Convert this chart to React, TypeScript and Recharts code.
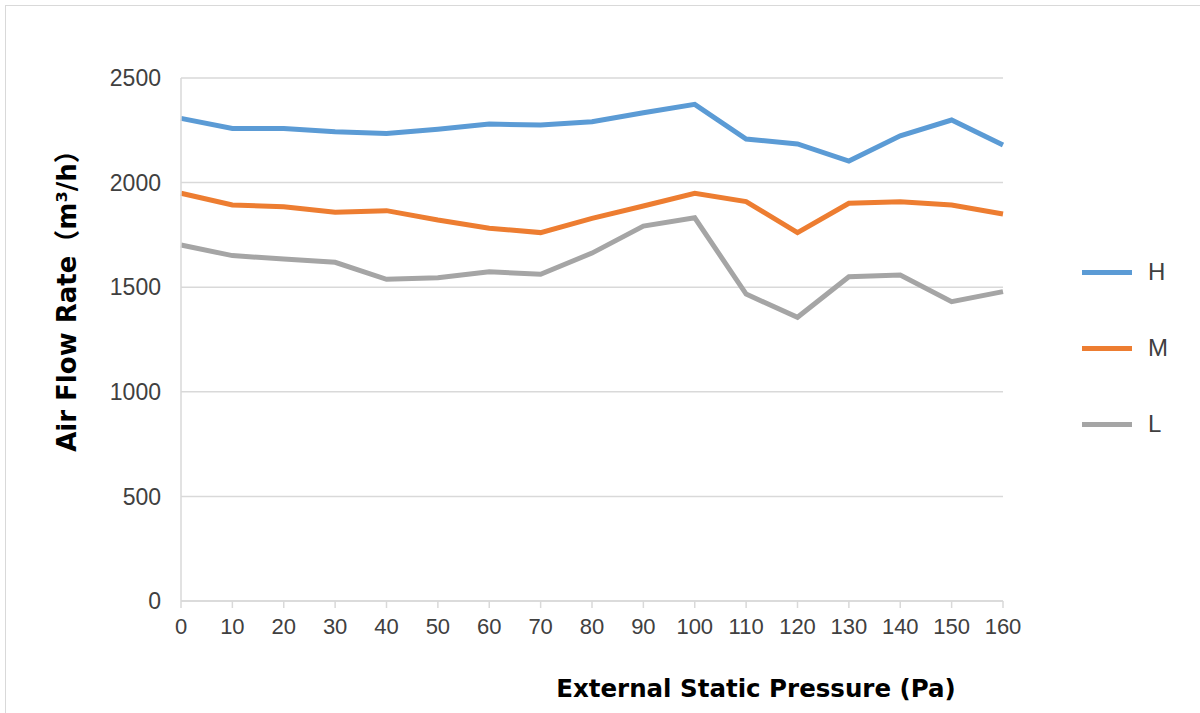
import { LineChart, Line, XAxis, YAxis, CartesianGrid, Legend, Label } from 'recharts';

const pressures = [0, 10, 20, 30, 40, 50, 60, 70, 80, 90, 100, 110, 120, 130, 140, 150, 160];
const highFlow = [2307, 2259, 2259, 2243, 2235, 2255, 2280, 2275, 2291, 2334, 2374, 2208, 2185, 2103, 2224, 2299, 2180];
const midFlow = [1949, 1893, 1885, 1858, 1866, 1821, 1782, 1761, 1829, 1888, 1949, 1909, 1761, 1901, 1909, 1893, 1850];
const lowFlow = [1702, 1651, 1635, 1619, 1538, 1545, 1574, 1562, 1663, 1792, 1832, 1467, 1356, 1550, 1558, 1431, 1479];
const yTicks = [0, 500, 1000, 1500, 2000, 2500];

const chartData = pressures.map((p, i) => ({ p, H: highFlow[i], M: midFlow[i], L: lowFlow[i] }));

const series = [
  { key: 'H', color: '#5b9bd5' },
  { key: 'M', color: '#ed7d31' },
  { key: 'L', color: '#a5a5a5' },
];

const titleFont = 'DejaVu Sans, Liberation Sans, Noto Sans CJK SC, sans-serif';

const LegendBox = () => (
  <div style={{ display: 'flex', flexDirection: 'column', gap: 50 }}>
    {series.map((s) => (
      <div key={s.key} style={{ display: 'flex', alignItems: 'center', height: 26 }}>
        <div style={{ width: 50, height: 5, background: s.color }} />
        <span style={{ marginLeft: 16, fontSize: 24, color: '#404040', fontFamily: 'Liberation Sans, Arial, sans-serif' }}>{s.key}</span>
      </div>
    ))}
  </div>
);

const YTitle = ({ viewBox }: any) => {
  const x = viewBox.x + viewBox.width - 114;
  const y = viewBox.y + viewBox.height / 2 - 45;
  return (
    <text x={x} y={y} transform={`rotate(-90 ${x} ${y})`} textAnchor="middle" dominantBaseline="central"
      style={{ fontSize: 26, fontWeight: 'bold', fontFamily: titleFont, fill: '#000' }}>
      Air Flow Rate（m³/h）
    </text>
  );
};

const XTitle = ({ viewBox }: any) => (
  <text x={viewBox.x + viewBox.width / 2 + 164} y={688} textAnchor="middle" dominantBaseline="central"
    style={{ fontSize: 24.5, fontWeight: 'bold', fontFamily: titleFont, fill: '#000' }}>
    External Static Pressure (Pa)
  </text>
);

export default function App() {
  return (
    <div style={{ position: 'absolute', left: 0, top: 0, width: 1200, height: 713, background: '#fff', overflow: 'hidden' }}>
      <div style={{ position: 'absolute', left: 5, top: 5, width: 1200, height: 720, border: '1px solid #d9d9d9' }} />
      <LineChart width={1200} height={713} data={chartData} margin={{ top: 78, right: 87, bottom: 0, left: 91 }}>
        <CartesianGrid vertical={false} stroke="#d9d9d9" strokeWidth={1.5} />
        <XAxis
          dataKey="p"
          height={112}
          stroke="#d9d9d9"
          strokeWidth={1.5}
          tickSize={7}
          tickMargin={10}
          tick={{ fill: '#404040', fontSize: 22, fontFamily: 'Liberation Sans Narrow, Liberation Sans, Arial, sans-serif' }}
        >
          <Label content={<XTitle />} />
        </XAxis>
        <YAxis
          width={90}
          domain={[0, 2500]}
          ticks={yTicks}
          stroke="#d9d9d9"
          strokeWidth={1.5}
          tickLine={false}
          tickSize={0}
          tickMargin={20}
          tick={{ fill: '#404040', fontSize: 23, fontFamily: 'Liberation Sans, Arial, sans-serif' }}
        >
          <Label content={<YTitle />} />
        </YAxis>
        <Legend
          layout="vertical"
          align="right"
          verticalAlign="top"
          content={() => <LegendBox />}
          wrapperStyle={{ left: 1082, top: 259, width: 110 }}
        />
        {series.map((s) => (
          <Line
            key={s.key}
            type="linear"
            dataKey={s.key}
            stroke={s.color}
            strokeWidth={5}
            dot={false}
            activeDot={false}
            isAnimationActive={false}
          />
        ))}
      </LineChart>
    </div>
  );
}
